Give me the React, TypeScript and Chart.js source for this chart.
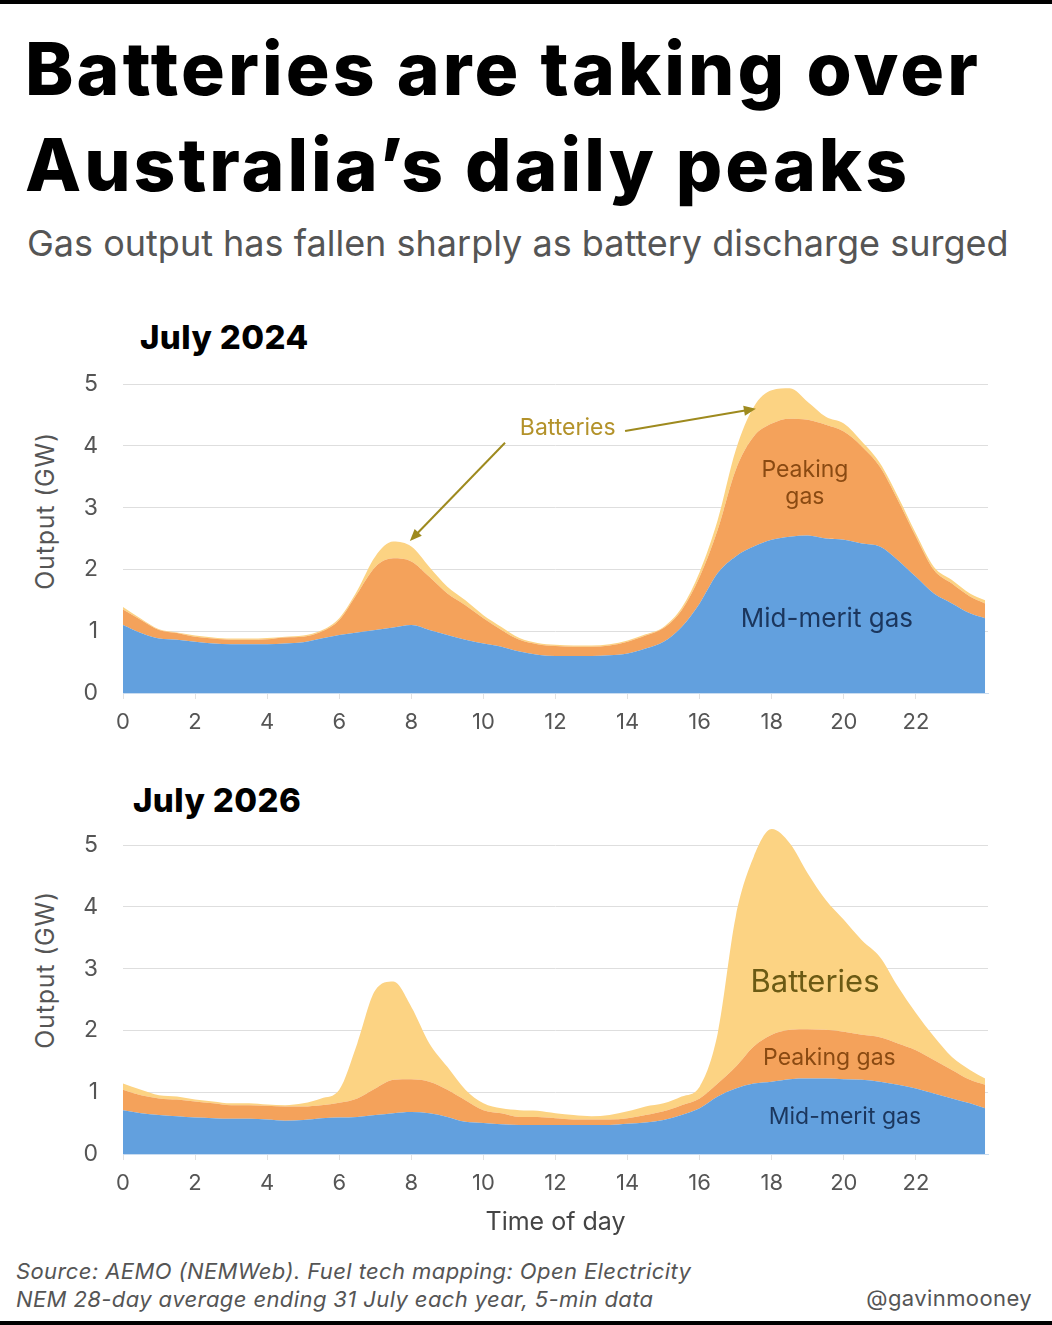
import { useEffect, useRef } from "react";
import { Chart, registerables } from "chart.js";

Chart.register(...registerables);

const FONT = "Inter, 'Noto Sans', sans-serif";
Chart.defaults.font.family = FONT;

// half-hourly read-off; last point is the final 5-min interval of the day
const hours = [
  0, 0.5, 1, 1.5, 2, 2.5, 3, 3.5, 4, 4.5, 5, 5.5, 6, 6.5, 7, 7.5, 8, 8.5, 9, 9.5,
  10, 10.5, 11, 11.5, 12, 12.5, 13, 13.5, 14, 14.5, 15, 15.5, 16, 16.5, 17, 17.5,
  18, 18.5, 19, 19.5, 20, 20.5, 21, 21.5, 22, 22.5, 23, 23.5, 23.92,
];

// July 2024, GW
const mid2024 = [
  1.10, 0.97, 0.88, 0.86, 0.83, 0.80, 0.79, 0.79, 0.79, 0.80,
  0.82, 0.88, 0.94, 0.98, 1.02, 1.06, 1.10, 1.02, 0.94, 0.86,
  0.80, 0.75, 0.67, 0.62, 0.60, 0.60, 0.60, 0.61, 0.64, 0.72,
  0.83, 1.07, 1.45, 1.94, 2.21, 2.37, 2.48, 2.53, 2.55, 2.50,
  2.48, 2.42, 2.37, 2.15, 1.88, 1.61, 1.45, 1.29, 1.21,
];
const peak2024 = [
  0.25, 0.21, 0.14, 0.11, 0.08, 0.08, 0.07, 0.07, 0.08, 0.10,
  0.09, 0.11, 0.24, 0.63, 1.02, 1.12, 1.03, 0.86, 0.67, 0.56,
  0.41, 0.27, 0.19, 0.17, 0.16, 0.15, 0.15, 0.16, 0.19, 0.21,
  0.22, 0.27, 0.43, 0.70, 1.40, 1.78, 1.88, 1.91, 1.87, 1.84,
  1.75, 1.57, 1.29, 0.97, 0.65, 0.38, 0.32, 0.27, 0.24,
];
const batt2024 = [
  0.04, 0.02, 0.01, 0.01, 0.02, 0.02, 0.02, 0.02, 0.02, 0.01,
  0.02, 0.02, 0.03, 0.05, 0.17, 0.27, 0.24, 0.16, 0.11, 0.08,
  0.05, 0.05, 0.03, 0.02, 0.02, 0.02, 0.02, 0.02, 0.02, 0.02,
  0.02, 0.04, 0.08, 0.16, 0.32, 0.48, 0.54, 0.49, 0.29, 0.13,
  0.13, 0.08, 0.06, 0.06, 0.05, 0.05, 0.06, 0.05, 0.05,
];

// July 2026, GW
const mid2026 = [
  0.71, 0.66, 0.63, 0.61, 0.59, 0.58, 0.57, 0.57, 0.56, 0.54,
  0.55, 0.58, 0.59, 0.60, 0.63, 0.66, 0.68, 0.66, 0.60, 0.52,
  0.50, 0.48, 0.47, 0.47, 0.47, 0.47, 0.47, 0.47, 0.49, 0.51,
  0.55, 0.63, 0.74, 0.93, 1.06, 1.14, 1.17, 1.21, 1.22, 1.22,
  1.21, 1.20, 1.17, 1.12, 1.06, 0.98, 0.90, 0.82, 0.74,
];
const peak2026 = [
  0.33, 0.29, 0.27, 0.27, 0.26, 0.24, 0.22, 0.22, 0.22, 0.23,
  0.22, 0.21, 0.24, 0.30, 0.43, 0.54, 0.53, 0.51, 0.44, 0.35,
  0.21, 0.18, 0.13, 0.13, 0.11, 0.09, 0.09, 0.09, 0.09, 0.12,
  0.14, 0.16, 0.16, 0.21, 0.35, 0.60, 0.76, 0.80, 0.80, 0.79,
  0.77, 0.73, 0.72, 0.67, 0.62, 0.54, 0.46, 0.38, 0.38,
];
const batt2026 = [
  0.10, 0.09, 0.05, 0.05, 0.03, 0.03, 0.03, 0.03, 0.02, 0.02,
  0.05, 0.11, 0.21, 0.89, 1.59, 1.59, 1.17, 0.62, 0.37, 0.17,
  0.11, 0.08, 0.11, 0.10, 0.08, 0.07, 0.05, 0.07, 0.11, 0.14,
  0.13, 0.14, 0.19, 0.81, 2.43, 3.07, 3.33, 3.02, 2.52, 2.10,
  1.81, 1.53, 1.30, 0.92, 0.60, 0.38, 0.21, 0.16, 0.10,
];

const BLUE = "#62a0de";
const ORANGE = "#f4a25b";
const YELLOW = "#fcd383";
const TICK = "#555555";
// axis runs a little past the 5 GW gridline so the 2026 evening peak is not cut off
const Y_MAX = 5.35;

type Note = { lines: string[]; x: number; y: number; color: string; size: number; gap?: number };
type Arrow = { from: [number, number]; to: [number, number] };

const notes2024: Note[] = [
  { lines: ["Batteries"], x: 12.34, y: 4.29, color: "#b3922a", size: 23 },
  { lines: ["Peaking", "gas"], x: 18.92, y: 3.39, color: "#8a4a12", size: 23, gap: 27 },
  { lines: ["Mid-merit gas"], x: 19.53, y: 1.2, color: "#1b365d", size: 26 },
];
const arrows2024: Arrow[] = [
  { from: [10.6, 4.05], to: [7.96, 2.46] },
  { from: [13.93, 4.24], to: [17.56, 4.6] },
];
const notes2026: Note[] = [
  { lines: ["Batteries"], x: 19.2, y: 2.77, color: "#6b5a14", size: 31 },
  { lines: ["Peaking gas"], x: 19.6, y: 1.55, color: "#8a4a12", size: 23 },
  { lines: ["Mid-merit gas"], x: 20.03, y: 0.6, color: "#1b365d", size: 23 },
];

interface StackProps {
  mid: number[];
  peak: number[];
  batt: number[];
  notes: Note[];
  arrows: Arrow[];
  top: number;
  height: number;
  padTop: number;
  xHeight: number;
  xTitle?: string;
}

function StackChart({ mid, peak, batt, notes, arrows, top, height, padTop, xHeight, xTitle }: StackProps) {
  const canvasRef = useRef<HTMLCanvasElement>(null);

  useEffect(() => {
    const ctx = canvasRef.current?.getContext("2d");
    if (!ctx) return;

    const series = (label: string, data: number[], color: string, fill: string) => ({
      label,
      data: hours.map((h, i) => ({ x: h, y: data[i] })),
      backgroundColor: color,
      borderWidth: 0,
      pointRadius: 0,
      fill,
      cubicInterpolationMode: "monotone" as const,
    });

    const notesPlugin = {
      id: "notes",
      afterDatasetsDraw(chart: Chart) {
        const { ctx: c, scales } = chart;
        const sx = scales.x;
        const sy = scales.y;
        c.save();
        arrows.forEach((a) => {
          const x1 = sx.getPixelForValue(a.from[0]);
          const y1 = sy.getPixelForValue(a.from[1]);
          const x2 = sx.getPixelForValue(a.to[0]);
          const y2 = sy.getPixelForValue(a.to[1]);
          const ang = Math.atan2(y2 - y1, x2 - x1);
          c.strokeStyle = "#9e8a1e";
          c.fillStyle = "#9e8a1e";
          c.lineWidth = 2;
          c.beginPath();
          c.moveTo(x1, y1);
          c.lineTo(x2 - 8 * Math.cos(ang), y2 - 8 * Math.sin(ang));
          c.stroke();
          c.beginPath();
          c.moveTo(x2, y2);
          c.lineTo(x2 - 12 * Math.cos(ang) + 5 * Math.sin(ang), y2 - 12 * Math.sin(ang) - 5 * Math.cos(ang));
          c.lineTo(x2 - 12 * Math.cos(ang) - 5 * Math.sin(ang), y2 - 12 * Math.sin(ang) + 5 * Math.cos(ang));
          c.closePath();
          c.fill();
        });
        notes.forEach((n) => {
          c.font = `400 ${n.size}px ${FONT}`;
          c.fillStyle = n.color;
          c.textAlign = "center";
          c.textBaseline = "middle";
          const cx = sx.getPixelForValue(n.x);
          const cy = sy.getPixelForValue(n.y);
          const gap = n.gap ?? 0;
          n.lines.forEach((line, i) => {
            c.fillText(line, cx, cy + (i - (n.lines.length - 1) / 2) * gap);
          });
        });
        c.restore();
      },
    };

    const chart = new Chart(ctx, {
      type: "line",
      data: {
        datasets: [
          series("Mid-merit gas", mid, BLUE, "origin"),
          series("Peaking gas", peak, ORANGE, "-1"),
          series("Batteries", batt, YELLOW, "-1"),
        ],
      },
      options: {
        animation: false,
        responsive: false,
        maintainAspectRatio: false,
        layout: { padding: { top: padTop, right: 64, left: 0, bottom: 0 } },
        plugins: { legend: { display: false }, tooltip: { enabled: false } },
        scales: {
          x: {
            type: "linear",
            min: 0,
            max: 24,
            afterBuildTicks: (s: any) => {
              s.ticks = s.ticks.filter((t: any) => t.value <= 22);
            },
            afterFit: (s: any) => {
              s.height = xHeight;
            },
            ticks: { stepSize: 2, includeBounds: false, color: TICK, font: { size: 22 }, padding: 10, maxRotation: 0 },
            grid: { drawOnChartArea: false, tickLength: 6, color: "#e2e2e2" },
            border: { color: "#c9dcf0" },
            title: {
              display: !!xTitle,
              text: xTitle ?? "",
              color: "#444444",
              font: { size: 25 },
              padding: { top: 0, bottom: 3 },
            },
          },
          y: {
            stacked: true,
            min: 0,
            max: Y_MAX,
            afterBuildTicks: (s: any) => {
              s.ticks = s.ticks.filter((t: any) => t.value <= 5);
            },
            afterFit: (s: any) => {
              s.width = 123;
              s.paddingTop = 0;
              s.paddingBottom = 0;
            },
            ticks: { stepSize: 1, includeBounds: false, color: TICK, font: { size: 23 }, padding: 25 },
            grid: { color: "#dedede", drawTicks: false },
            border: { display: false },
          },
        },
      },
      plugins: [notesPlugin],
    });

    return () => chart.destroy();
  }, [mid, peak, batt, notes, arrows, padTop, xHeight, xTitle]);

  return (
    <div style={{ position: "absolute", left: 0, top, width: 1052, height }}>
      <canvas ref={canvasRef} width={1052} height={height} />
    </div>
  );
}

function Text({ children, left, right, baseline, size, weight = 400, color, italic, spacing }: any) {
  return (
    <div
      style={{
        position: "absolute",
        left,
        right,
        top: baseline - size * 0.864,
        fontSize: size,
        lineHeight: `${size}px`,
        fontWeight: weight,
        fontStyle: italic ? "italic" : "normal",
        letterSpacing: spacing,
        color,
        whiteSpace: "nowrap",
      }}
    >
      {children}
    </div>
  );
}

function AxisTitle({ cy }: { cy: number }) {
  return (
    <div
      style={{
        position: "absolute",
        left: 45,
        top: cy,
        transform: "translate(-50%, -50%) rotate(-90deg)",
        fontSize: 25,
        letterSpacing: 0.8,
        color: TICK,
        whiteSpace: "nowrap",
      }}
    >
      Output (GW)
    </div>
  );
}

export default function App() {
  return (
    <div
      style={{
        position: "absolute",
        left: 0,
        top: 0,
        width: 1052,
        height: 1325,
        background: "#ffffff",
        fontFamily: FONT,
        overflow: "hidden",
      }}
    >
      <div style={{ position: "absolute", left: 0, top: 0, width: 1052, height: 4, background: "#000" }} />
      <Text left={25} baseline={95} size={73} weight={800} spacing={3.1} color="#000">
        Batteries are taking over
      </Text>
      <Text left={25} baseline={191} size={73} weight={800} spacing={3.0} color="#000">
        Australia’s daily peaks
      </Text>
      <Text left={27} baseline={256} size={36} color="#555">
        Gas output has fallen sharply as battery discharge surged
      </Text>

      <Text left={140} baseline={350} size={33} weight={800} spacing={0.4} color="#000">
        July 2024
      </Text>
      <AxisTitle cy={511} />
      <StackChart
        mid={mid2024}
        peak={peak2024}
        batt={batt2024}
        notes={notes2024}
        arrows={arrows2024}
        top={352}
        height={398}
        padTop={10.4}
        xHeight={57}
      />

      <Text left={133} baseline={813} size={33} weight={800} spacing={0.4} color="#000">
        July 2026
      </Text>
      <AxisTitle cy={970} />
      <StackChart
        mid={mid2026}
        peak={peak2026}
        batt={batt2026}
        notes={notes2026}
        arrows={[]}
        top={815}
        height={425}
        padTop={8.4}
        xHeight={86}
        xTitle="Time of day"
      />

      <Text left={16} baseline={1279} size={22} italic spacing={0.4} color="#555">
        Source: AEMO (NEMWeb). Fuel tech mapping: Open Electricity
      </Text>
      <Text left={16} baseline={1307} size={22} italic spacing={0.4} color="#555">
        NEM 28-day average ending 31 July each year, 5-min data
      </Text>
      <Text right={20} baseline={1306} size={22} spacing={0.4} color="#555">
        @gavinmooney
      </Text>
      <div style={{ position: "absolute", left: 0, top: 1321, width: 1052, height: 4, background: "#000" }} />
    </div>
  );
}
